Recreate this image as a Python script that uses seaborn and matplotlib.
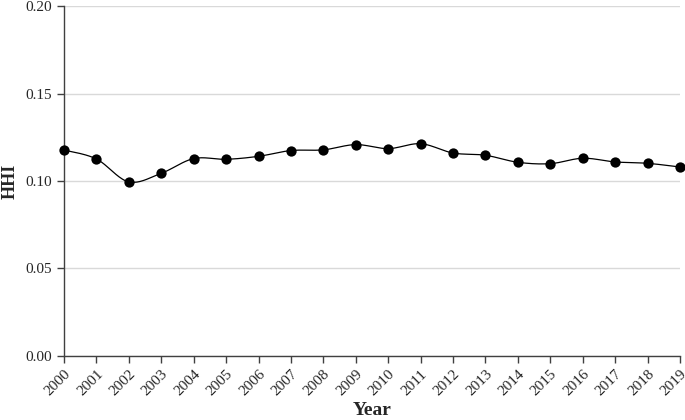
import numpy as np
import pandas as pd
import matplotlib
matplotlib.use('Agg')
import matplotlib.pyplot as plt
import seaborn as sns

years = list(range(2000, 2020))
hhi = [0.1177, 0.1126, 0.0995, 0.1044, 0.1128, 0.1124, 0.1141, 0.1174, 0.1178, 0.1208,
       0.1185, 0.1213, 0.1160, 0.1147, 0.1107, 0.1099, 0.1130, 0.1109, 0.1101, 0.1080]
y_ticks = [0.00, 0.05, 0.10, 0.15, 0.20]


def smooth_line(x, y, steps=20):
    # catmull-rom style smoothing, like a spreadsheet "smoothed line"
    x = np.asarray(x, float)
    y = np.asarray(y, float)
    px = np.concatenate([[x[0]], x, [x[-1]]])
    py = np.concatenate([[y[0]], y, [y[-1]]])
    xs, ys = [], []
    t = np.linspace(0, 1, steps, endpoint=False)
    for i in range(1, len(px) - 2):
        for arr, out in ((px, xs), (py, ys)):
            p0, p1, p2, p3 = arr[i - 1], arr[i], arr[i + 1], arr[i + 2]
            out.extend(0.5 * (2 * p1 + (-p0 + p2) * t
                              + (2 * p0 - 5 * p1 + 4 * p2 - p3) * t ** 2
                              + (-p0 + 3 * p1 - 3 * p2 + p3) * t ** 3))
    xs.append(x[-1])
    ys.append(y[-1])
    return np.array(xs), np.array(ys)


df = pd.DataFrame({'Year': years, 'HHI': hhi})

sns.set_style('white')
plt.rcParams['font.family'] = ['Liberation Serif', 'DejaVu Serif']

fig = plt.figure(figsize=(6.85, 4.2), dpi=100)
ax = fig.add_axes([0.0934, 0.1524, 0.8993, 0.8333])

sx, sy = smooth_line(df['Year'], df['HHI'])
ax.plot(sx, sy, color='black', lw=0.9, zorder=3, clip_on=False)
sns.scatterplot(data=df, x='Year', y='HHI', ax=ax, color='black', s=55,
                edgecolor='black', linewidth=0, zorder=4, clip_on=False)

ax.set_xlim(2000, 2019)
ax.set_ylim(0, 0.20)
ax.set_yticks(y_ticks)
ax.set_yticklabels([f'{v:.2f}' for v in y_ticks], fontsize=11)
ax.set_xticks(years)
ax.set_xticklabels([str(y) for y in years], rotation=45, ha='right',
                   rotation_mode='anchor', fontsize=11)
ax.yaxis.grid(True, color='#d9d9d9', lw=1)
ax.set_axisbelow(True)

for s in ['top', 'right']:
    ax.spines[s].set_visible(False)
for s in ['left', 'bottom']:
    ax.spines[s].set_color('#404040')
    ax.spines[s].set_linewidth(1)
ax.tick_params(axis='both', direction='out', length=5, width=1, color='#404040',
               bottom=True, left=True)

ax.set_xlabel('Year', fontsize=14, fontweight='bold', va='center')
ax.set_ylabel('HHI', fontsize=13, fontweight='bold', va='center')
ax.xaxis.set_label_coords(0.5, -0.155)
ax.yaxis.set_label_coords(-0.088, 0.5)

fig.savefig('out.png', dpi=100)
